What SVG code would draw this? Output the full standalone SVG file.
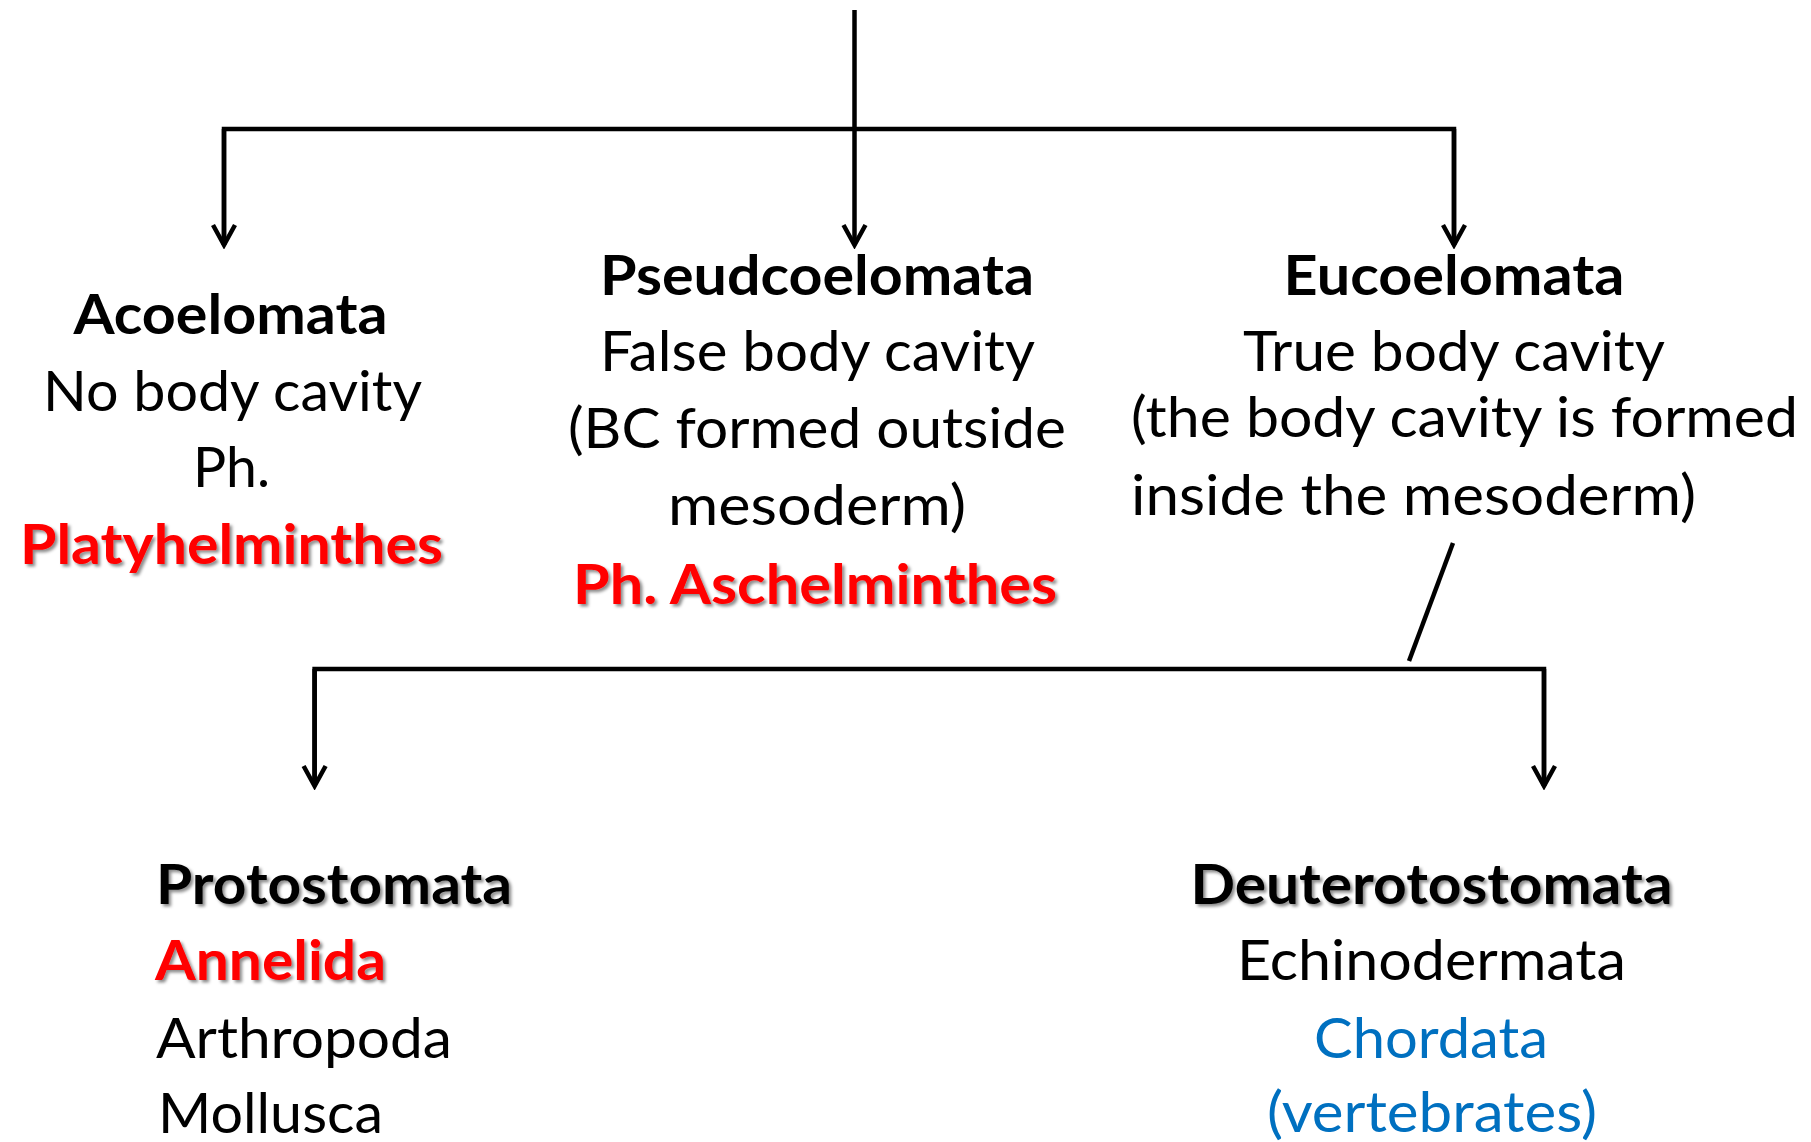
<svg xmlns="http://www.w3.org/2000/svg" width="1811" height="1142" viewBox="0 0 1811 1142">
<style>
text{font-family:Lato,"Open Sans","Liberation Sans",sans-serif;font-size:56px;fill:#000}
.b{font-weight:bold}
.red{fill:#FF0000}
.blue{fill:#0070C0}
.sh{filter:url(#shadow)}
.ln{stroke:#000;stroke-width:4.5;fill:none}
.arr{marker-end:url(#ah)}
</style>
<defs>
<filter id="shadow" x="-5%" y="-20%" width="110%" height="150%">
<feDropShadow dx="2.5" dy="2.5" stdDeviation="1.5" flood-color="#000" flood-opacity="0.45"/>
</filter>
<marker id="ah" viewBox="-26 -14 30 28" refX="0" refY="0" markerWidth="30" markerHeight="28" markerUnits="userSpaceOnUse" orient="auto">
<path d="M-20,-11 L0,0 L-20,11" fill="none" stroke="#000" stroke-width="4.5" stroke-linejoin="miter"/>
</marker>
</defs>
<rect width="1811" height="1142" fill="#fff"/>
<g id="connectors">
<line class="ln arr" x1="854.5" y1="10" x2="854.5" y2="245"/>
<polyline class="ln" points="224,245 224,129 1454,129 1454,245"/>
<line class="ln arr" x1="224" y1="129" x2="224" y2="245"/>
<line class="ln arr" x1="1454" y1="129" x2="1454" y2="245"/>
<line class="ln" x1="1453" y1="543" x2="1409" y2="661"/>
<polyline class="ln" points="314.6,786 314.6,669 1544,669 1544,786"/>
<line class="ln arr" x1="314.6" y1="669" x2="314.6" y2="786"/>
<line class="ln arr" x1="1544" y1="669" x2="1544" y2="786"/>
</g>
<g id="acoelomata">
<text class="b" x="73.5" y="334" textLength="314" lengthAdjust="spacingAndGlyphs">Acoelomata</text>
<text x="43" y="411" textLength="379" lengthAdjust="spacingAndGlyphs">No body cavity</text>
<text x="193" y="487" textLength="77" lengthAdjust="spacingAndGlyphs">Ph.</text>
<text class="b red sh" x="20" y="564" textLength="423" lengthAdjust="spacingAndGlyphs">Platyhelminthes</text>
</g>
<g id="pseudcoelomata">
<text class="b" x="600" y="295" textLength="434" lengthAdjust="spacingAndGlyphs">Pseudcoelomata</text>
<text x="600" y="371" textLength="435" lengthAdjust="spacingAndGlyphs">False body cavity</text>
<text x="568" y="448" textLength="498" lengthAdjust="spacingAndGlyphs">(BC formed outside</text>
<text x="668" y="525" textLength="298" lengthAdjust="spacingAndGlyphs">mesoderm)</text>
<text class="b red sh" x="573" y="604" textLength="484" lengthAdjust="spacingAndGlyphs">Ph. Aschelminthes</text>
</g>
<g id="eucoelomata">
<text class="b" x="1283.5" y="295" textLength="341" lengthAdjust="spacingAndGlyphs">Eucoelomata</text>
<text x="1243" y="371" textLength="422" lengthAdjust="spacingAndGlyphs">True body cavity</text>
<text x="1131" y="437" textLength="667" lengthAdjust="spacingAndGlyphs">(the body cavity is formed</text>
<text x="1131" y="515" textLength="565" lengthAdjust="spacingAndGlyphs">inside the mesoderm)</text>
</g>
<g id="protostomata">
<text class="b sh" x="156" y="904" textLength="356" lengthAdjust="spacingAndGlyphs">Protostomata</text>
<text class="b red sh" x="155" y="980" textLength="231" lengthAdjust="spacingAndGlyphs">Annelida</text>
<text x="156" y="1058" textLength="296" lengthAdjust="spacingAndGlyphs">Arthropoda</text>
<text x="158" y="1133" textLength="225" lengthAdjust="spacingAndGlyphs">Mollusca</text>
</g>
<g id="deuterotostomata">
<text class="b sh" x="1190.5" y="904" textLength="482" lengthAdjust="spacingAndGlyphs">Deuterotostomata</text>
<text x="1237" y="980" textLength="389" lengthAdjust="spacingAndGlyphs">Echinodermata</text>
<text class="blue" x="1314" y="1058" textLength="234" lengthAdjust="spacingAndGlyphs">Chordata</text>
<text class="blue" x="1267" y="1132" textLength="330" lengthAdjust="spacingAndGlyphs">(vertebrates)</text>
</g>
</svg>
